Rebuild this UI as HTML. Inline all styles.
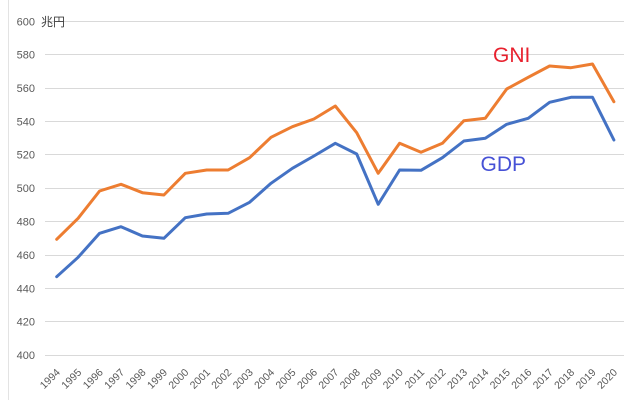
<!DOCTYPE html>
<html><head><meta charset="utf-8">
<style>
html,body{margin:0;padding:0;background:#fff;}
svg{display:block;}
.yl{font-family:"Liberation Sans",sans-serif;font-size:11px;fill:#595959;text-anchor:end;}
.xl{font-family:"Liberation Sans",sans-serif;font-size:10.5px;fill:#595959;text-anchor:end;}
</style></head>
<body>
<svg width="632" height="406" viewBox="0 0 632 406" xmlns="http://www.w3.org/2000/svg">
<rect x="0" y="0" width="632" height="406" fill="#fff"/>
<line x1="8.5" y1="0" x2="8.5" y2="400" stroke="#e3e3e3" stroke-width="1"/>
<g stroke="#d9d9d9" stroke-width="1">
<line x1="45" y1="21.5" x2="624" y2="21.5"/>
<line x1="45" y1="54.5" x2="624" y2="54.5"/>
<line x1="45" y1="88.5" x2="624" y2="88.5"/>
<line x1="45" y1="121.5" x2="624" y2="121.5"/>
<line x1="45" y1="154.5" x2="624" y2="154.5"/>
<line x1="45" y1="188.5" x2="624" y2="188.5"/>
<line x1="45" y1="221.5" x2="624" y2="221.5"/>
<line x1="45" y1="255.5" x2="624" y2="255.5"/>
<line x1="45" y1="288.5" x2="624" y2="288.5"/>
<line x1="45" y1="321.5" x2="624" y2="321.5"/>
<line x1="45" y1="355.5" x2="624" y2="355.5"/>
</g>
<g class="yl">
<text x="35" y="25.5">600</text>
<text x="35" y="58.5">580</text>
<text x="35" y="92">560</text>
<text x="35" y="125.5">540</text>
<text x="35" y="158.5">520</text>
<text x="35" y="192">500</text>
<text x="35" y="225.5">480</text>
<text x="35" y="259">460</text>
<text x="35" y="292.5">440</text>
<text x="35" y="325.5">420</text>
<text x="35" y="359">400</text>
</g>
<text x="41" y="26" font-family="'Liberation Sans','Noto Sans CJK JP',sans-serif" font-size="12" fill="#404040">兆円</text>

<polyline fill="none" stroke="#ED7D31" stroke-width="3" stroke-linejoin="round" stroke-linecap="round"
points="56.7,239.3 78.1,218.3 99.6,191 121,184.3 142.4,192.7 163.9,195 185.3,173.3 206.7,170 228.1,170 249.6,157.7 271,137.3 292.4,126.7 313.9,119 335.3,106 356.7,132.7 378.2,173.3 399.6,143.3 421,152.3 442.4,143.3 463.9,120.7 485.3,118.3 506.7,89 528.2,77.3 549.6,66 571,67.7 592.5,64 613.9,101.7"/>
<polyline fill="none" stroke="#4472C4" stroke-width="3" stroke-linejoin="round" stroke-linecap="round"
points="56.7,276.7 78.1,257.3 99.6,233.3 121,226.7 142.4,236 163.9,238.3 185.3,217.7 206.7,214 228.1,213.3 249.6,202.3 271,183.3 292.4,168.3 313.9,156 335.3,143.3 356.7,154 378.2,204.3 399.6,170 421,170.3 442.4,157.7 463.9,141 485.3,138.3 506.7,124.3 528.2,118.3 549.6,102.3 571,97.3 592.5,97.3 613.9,140"/>

<text x="493" y="62" font-family="'Liberation Sans',sans-serif" font-size="21" fill="#E8212E">GNI</text>
<text x="480.5" y="171" font-family="'Liberation Sans',sans-serif" font-size="21" fill="#4651D6">GDP</text>

<g class="xl">
<text transform="translate(60.7,373) rotate(-45)">1994</text>
<text transform="translate(82.1,373) rotate(-45)">1995</text>
<text transform="translate(103.6,373) rotate(-45)">1996</text>
<text transform="translate(125,373) rotate(-45)">1997</text>
<text transform="translate(146.4,373) rotate(-45)">1998</text>
<text transform="translate(167.9,373) rotate(-45)">1999</text>
<text transform="translate(189.3,373) rotate(-45)">2000</text>
<text transform="translate(210.7,373) rotate(-45)">2001</text>
<text transform="translate(232.1,373) rotate(-45)">2002</text>
<text transform="translate(253.6,373) rotate(-45)">2003</text>
<text transform="translate(275,373) rotate(-45)">2004</text>
<text transform="translate(296.4,373) rotate(-45)">2005</text>
<text transform="translate(317.9,373) rotate(-45)">2006</text>
<text transform="translate(339.3,373) rotate(-45)">2007</text>
<text transform="translate(360.7,373) rotate(-45)">2008</text>
<text transform="translate(382.2,373) rotate(-45)">2009</text>
<text transform="translate(403.6,373) rotate(-45)">2010</text>
<text transform="translate(425,373) rotate(-45)">2011</text>
<text transform="translate(446.4,373) rotate(-45)">2012</text>
<text transform="translate(467.9,373) rotate(-45)">2013</text>
<text transform="translate(489.3,373) rotate(-45)">2014</text>
<text transform="translate(510.7,373) rotate(-45)">2015</text>
<text transform="translate(532.2,373) rotate(-45)">2016</text>
<text transform="translate(553.6,373) rotate(-45)">2017</text>
<text transform="translate(575,373) rotate(-45)">2018</text>
<text transform="translate(596.5,373) rotate(-45)">2019</text>
<text transform="translate(617.9,373) rotate(-45)">2020</text>
</g>
</svg>
</body></html>
